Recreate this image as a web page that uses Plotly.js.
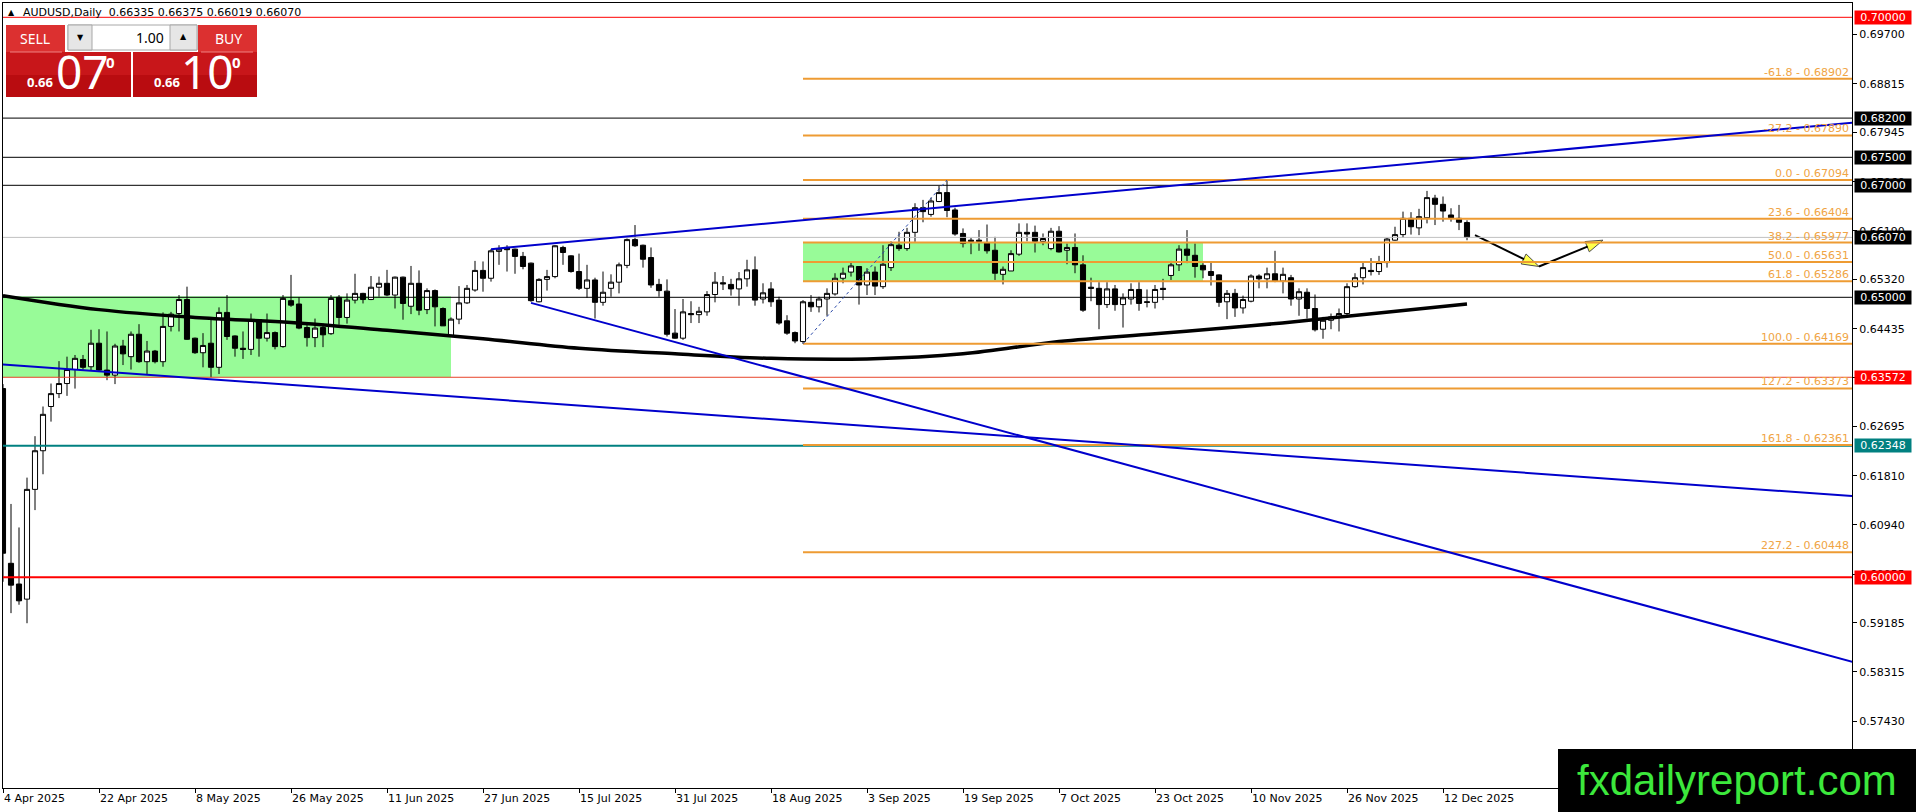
<!DOCTYPE html>
<html>
<head>
<meta charset="utf-8">
<script src="https://cdn.plot.ly/plotly-3.0.1.min.js"></script>
<style>html,body{margin:0;padding:0;background:#fff}#chart{width:1916px;height:812px}</style>
</head>
<body>
<div id="chart"></div>
<script>
// AUDUSD daily, bars counted from 4 Apr 2025 (index 0)
const tickBars = [0, 12, 24, 36, 48, 60, 72, 84, 96, 108, 120, 132, 144, 156, 168, 180];
const tickLabels = ["4 Apr 2025", "22 Apr 2025", "8 May 2025", "26 May 2025", "11 Jun 2025", "27 Jun 2025",
  "15 Jul 2025", "31 Jul 2025", "18 Aug 2025", "3 Sep 2025", "19 Sep 2025", "7 Oct 2025",
  "23 Oct 2025", "10 Nov 2025", "26 Nov 2025", "12 Dec 2025"];

const opens = [0.6337,0.6025,0.5988,0.5961,0.6157,0.6226,0.6305,0.6328,0.6346,0.6371,
  0.6389,0.6376,0.6418,0.6370,0.6361,0.6413,0.6394,0.6434,0.6385,0.6404,
  0.6385,0.6448,0.6471,0.6496,0.6427,0.6401,0.6418,0.6375,0.6473,0.6431,
  0.6409,0.6407,0.6460,0.6427,0.6437,0.6412,0.6494,0.6488,0.6446,0.6428,
  0.6446,0.6435,0.6500,0.6464,0.6495,0.6507,0.6496,0.6518,0.6525,0.6504,
  0.6536,0.6484,0.6525,0.6478,0.6512,0.6480,0.6431,0.6461,0.6490,0.6513,
  0.6548,0.6534,0.6582,0.6589,0.6586,0.6573,0.6561,0.6492,0.6532,0.6537,
  0.6589,0.6574,0.6546,0.6516,0.6531,0.6491,0.6516,0.6527,0.6557,0.6603,
  0.6593,0.6571,0.6523,0.6511,0.6436,0.6427,0.6471,0.6469,0.6474,0.6505,
  0.6526,0.6523,0.6515,0.6533,0.6549,0.6497,0.6515,0.6495,0.6458,0.6437,
  0.6421,0.6491,0.6483,0.6497,0.6506,0.6534,0.6545,0.6555,0.6522,0.6545,
  0.6519,0.6553,0.6593,0.6587,0.6616,0.6660,0.6648,0.6671,0.6687,0.6656,
  0.6614,0.6602,0.6602,0.6597,0.6584,0.6541,0.6547,0.6577,0.6616,0.6616,
  0.6600,0.6587,0.6618,0.6584,0.6589,0.6558,0.6518,0.6516,0.6487,0.6515,
  0.6487,0.6497,0.6514,0.6492,0.6491,0.6516,0.6539,0.6558,0.6586,0.6575,
  0.6557,0.6546,0.6540,0.6492,0.6507,0.6481,0.6493,0.6538,0.6533,0.6542,
  0.6529,0.6535,0.6497,0.6509,0.6480,0.6443,0.6459,0.6465,0.6471,0.6519,
  0.6535,0.6548,0.6546,0.6562,0.6602,0.6612,0.6641,0.6624,0.6642,0.6677,
  0.6666,0.6647,0.6641,0.66335];
const highs = [0.6345,0.6131,0.6089,0.6178,0.6252,0.6305,0.6346,0.6386,0.6394,0.6397,
  0.6397,0.6442,0.6443,0.6439,0.6417,0.6424,0.6439,0.6452,0.6422,0.6406,
  0.6473,0.6474,0.6504,0.6519,0.6428,0.6436,0.6461,0.6482,0.6504,0.6432,
  0.6439,0.6471,0.6461,0.6471,0.6439,0.6504,0.6540,0.6500,0.6453,0.6462,
  0.6453,0.6504,0.6504,0.6507,0.6542,0.6508,0.6538,0.6537,0.6549,0.6537,
  0.6537,0.6556,0.6548,0.6516,0.6514,0.6482,0.6464,0.6520,0.6522,0.6565,
  0.6564,0.6586,0.6593,0.6593,0.6587,0.6581,0.6562,0.6534,0.6549,0.6593,
  0.6592,0.6575,0.6578,0.6558,0.6535,0.6546,0.6541,0.6562,0.6605,0.6629,
  0.6594,0.6589,0.6533,0.6532,0.6479,0.6497,0.6493,0.6483,0.6511,0.6545,
  0.6538,0.6533,0.6545,0.6567,0.6573,0.6525,0.6527,0.6501,0.6468,0.6439,
  0.6495,0.6504,0.6501,0.6516,0.6543,0.6553,0.6562,0.6555,0.6552,0.6555,
  0.6593,0.6600,0.6617,0.6624,0.6668,0.6674,0.6678,0.6699,0.67094,0.6660,
  0.6623,0.6606,0.6620,0.6630,0.6608,0.6555,0.6584,0.6632,0.6632,0.6628,
  0.6614,0.6624,0.6627,0.6596,0.6614,0.6575,0.6535,0.6527,0.6527,0.6522,
  0.6507,0.6525,0.6527,0.6514,0.6522,0.6533,0.6565,0.6593,0.6620,0.6596,
  0.6561,0.6562,0.6541,0.6513,0.6515,0.6503,0.6541,0.6541,0.6553,0.6583,
  0.6553,0.6540,0.6516,0.6516,0.6505,0.6465,0.6471,0.6480,0.6525,0.6543,
  0.6562,0.6570,0.6574,0.6606,0.6626,0.6653,0.6652,0.6658,0.6690,0.6683,
  0.6680,0.6659,0.6665,0.66375];
const lows = [0.5992,0.5936,0.5951,0.5918,0.6120,0.6184,0.6278,0.6320,0.6324,0.6337,
  0.6371,0.6370,0.6367,0.6352,0.6345,0.6379,0.6371,0.6383,0.6363,0.6382,
  0.6376,0.6439,0.6439,0.6424,0.6399,0.6375,0.6357,0.6363,0.6424,0.6394,
  0.6390,0.6397,0.6394,0.6421,0.6407,0.6410,0.6483,0.6443,0.6412,0.6411,
  0.6411,0.6433,0.6451,0.6453,0.6489,0.6489,0.6495,0.6501,0.6502,0.6480,
  0.6460,0.6470,0.6468,0.6470,0.6448,0.6449,0.6430,0.6452,0.6488,0.6510,
  0.6510,0.6528,0.6558,0.6546,0.6542,0.6550,0.6492,0.6491,0.6512,0.6534,
  0.6558,0.6544,0.6513,0.6499,0.6462,0.6485,0.6501,0.6507,0.6552,0.6590,
  0.6553,0.6517,0.6501,0.6430,0.6426,0.6424,0.6454,0.6454,0.6467,0.6491,
  0.6513,0.6503,0.6485,0.6519,0.6485,0.6489,0.6483,0.6451,0.6433,0.6418,
  0.6417,0.6474,0.6473,0.6467,0.6503,0.6525,0.6537,0.6487,0.6504,0.6504,
  0.6515,0.6547,0.6583,0.6583,0.6599,0.6634,0.6644,0.6670,0.6643,0.6610,
  0.6589,0.6577,0.6583,0.6578,0.6531,0.6523,0.6547,0.6574,0.6600,0.6580,
  0.6593,0.6584,0.6580,0.6559,0.6543,0.6474,0.6493,0.6443,0.6481,0.6476,
  0.6446,0.6487,0.6476,0.6482,0.6480,0.6495,0.6531,0.6547,0.6561,0.6535,
  0.6534,0.6521,0.6483,0.6461,0.6465,0.6471,0.6491,0.6516,0.6516,0.6527,
  0.6507,0.6485,0.6467,0.6462,0.6439,0.6426,0.6443,0.6439,0.6468,0.6517,
  0.6523,0.6539,0.6540,0.6553,0.6601,0.6606,0.6612,0.6611,0.6632,0.6629,
  0.6635,0.6635,0.6620,0.66019];
const closes = [0.6043,0.5986,0.5958,0.6157,0.6226,0.6291,0.6328,0.6346,0.6371,0.6391,
  0.6375,0.6418,0.6370,0.6361,0.6413,0.6399,0.6434,0.6385,0.6404,0.6385,
  0.6448,0.6470,0.6496,0.6425,0.6401,0.6414,0.6375,0.6473,0.6430,0.6409,
  0.6407,0.6460,0.6427,0.6437,0.6412,0.6498,0.6486,0.6445,0.6428,0.6445,
  0.6433,0.6498,0.6464,0.6495,0.6507,0.6496,0.6518,0.6525,0.6504,0.6536,
  0.6489,0.6525,0.6477,0.6512,0.6483,0.6449,0.6461,0.6490,0.6516,0.6548,
  0.6534,0.6583,0.6586,0.6585,0.6573,0.6555,0.6494,0.6532,0.6537,0.6592,
  0.6580,0.6546,0.6516,0.6531,0.6491,0.6509,0.6527,0.6558,0.6603,0.6592,
  0.6568,0.6522,0.6512,0.6434,0.6427,0.6474,0.6469,0.6475,0.6505,0.6527,
  0.6524,0.6515,0.6533,0.6549,0.6495,0.6508,0.6492,0.6454,0.6436,0.6422,
  0.6492,0.6483,0.6497,0.6507,0.6534,0.6543,0.6556,0.6522,0.6545,0.6520,
  0.6559,0.6594,0.6587,0.6616,0.6660,0.6653,0.6672,0.6687,0.6655,0.6613,
  0.6596,0.6600,0.6600,0.6583,0.6543,0.6550,0.6578,0.6616,0.6613,0.6600,
  0.6605,0.6618,0.6581,0.6589,0.6558,0.6477,0.6516,0.6487,0.6515,0.6487,
  0.6499,0.6514,0.6489,0.6491,0.6514,0.6514,0.6558,0.6586,0.6575,0.6555,
  0.6549,0.6539,0.6491,0.6507,0.6481,0.6496,0.6538,0.6533,0.6542,0.6529,
  0.6541,0.6497,0.6510,0.6480,0.6442,0.6459,0.6465,0.6471,0.6519,0.6535,
  0.6553,0.6546,0.6562,0.6604,0.6612,0.6641,0.6626,0.6644,0.6678,0.6666,
  0.6654,0.6642,0.6634,0.66070];

// moving average, sampled every 12 bars
const maBars = [0, 12, 24, 36, 48, 60, 72, 84, 96, 108, 120, 132, 144, 156, 168, 183];
const maValues = [0.6503, 0.6478, 0.6464, 0.6455, 0.6441, 0.6426, 0.6409, 0.6399, 0.6391, 0.6390,
  0.6399, 0.6421, 0.6435, 0.6449, 0.6466, 0.6488];

// right price scale
const priceTicks = [0.69700, 0.68815, 0.67945, 0.67060, 0.66190, 0.65320, 0.64435, 0.63565,
  0.62695, 0.61810, 0.60940, 0.60055, 0.59185, 0.58315, 0.57430];

// horizontal levels with their price tags
const levelPrices = [0.70000, 0.68200, 0.67500, 0.67000, 0.66070, 0.65000, 0.63572, 0.62348, 0.60000];
const levelColors = ["#ff0000", "#000000", "#000000", "#000000", "#000000", "#000000", "#ff0000", "#008080", "#ff0000"];
const levelLineColors = ["#ff0000", "#000000", "#000000", "#000000", "#c0c0c0", "#000000", "#e8442a", "#008080", "#ff0000"];
const levelLineWidths = [1, 1, 1, 1, 1, 1, 1, 2, 2];

// fibonacci from the Aug low to the Sep high
const fibLevels = ["-61.8", "-27.2", "0.0", "23.6", "38.2", "50.0", "61.8", "100.0", "127.2", "161.8", "227.2"];
const fibPrices = [0.68902, 0.67890, 0.67094, 0.66404, 0.65977, 0.65631, 0.65286, 0.64169, 0.63373, 0.62361, 0.60448];
const fibStartBar = 100;
const fibAnchorBars = [100, 118];
const fibAnchorPrices = [0.64169, 0.67094];

// trend lines (start bar/price, end bar/price)
const upperTrendBars = [61, 231.2], upperTrendPrices = [0.6586, 0.6812];
const fallTrendBars = [66, 231.2], fallTrendPrices = [0.6490, 0.5849];
const lowerTrendBars = [-1, 231.2], lowerTrendPrices = [0.6381, 0.6145];

// green zones
const zoneStart = [-1, 100], zoneEnd = [56, 150];
const zoneTop = [0.6502, 0.65977], zoneBottom = [0.63572, 0.65286];

// projected path
const projBars = [184, 192, 200];
const projPrices = [0.6611, 0.6555, 0.6602];

const bars = opens.map((_, i) => i);

// pixel helpers for the panel and watermark (plot area is x 3..1852, y 3..788)
const W = 1916, H = 812, ML = 3, MR = 64, MT = 3, MB = 24;
const pw = W - ML - MR, ph = H - MT - MB;
const X = px => (px - ML) / pw;
const Y = py => (H - MB - py) / ph;

const shapes = [];
const annotations = [];

// zones (behind candles)
for (let i = 0; i < zoneStart.length; i++) {
  shapes.push({type: "rect", layer: "below", xref: "x", yref: "y",
    x0: zoneStart[i], x1: zoneEnd[i], y0: zoneBottom[i], y1: zoneTop[i],
    fillcolor: "#98fb98", line: {width: 0}});
}

// horizontal levels
for (let i = 0; i < levelPrices.length; i++) {
  shapes.push({type: "line", xref: "paper", yref: "y", x0: 0, x1: 1,
    y0: levelPrices[i], y1: levelPrices[i],
    line: {color: levelLineColors[i], width: levelLineWidths[i]}});
  annotations.push({xref: "paper", yref: "y", x: 1, y: levelPrices[i], xanchor: "left", xshift: 2,
    text: levelPrices[i].toFixed(5), showarrow: false, bgcolor: levelColors[i],
    width: 54, height: 11, borderpad: 1, align: "center",
    font: {family: "DejaVu Sans", size: 11, color: "#ffffff"}});
}

// fib levels
for (let i = 0; i < fibPrices.length; i++) {
  shapes.push({type: "line", xref: "x", yref: "y", x0: fibStartBar, x1: 231.2,
    y0: fibPrices[i], y1: fibPrices[i], line: {color: "#ee9b33", width: 2}});
  annotations.push({xref: "paper", yref: "y", x: 1, y: fibPrices[i], xanchor: "right", yanchor: "bottom",
    xshift: -1, yshift: -2, text: fibLevels[i] + " - " + fibPrices[i].toFixed(5), showarrow: false,
    font: {family: "DejaVu Sans", size: 11, color: "#f0a444"}});
}
shapes.push({type: "line", xref: "x", yref: "y", x0: fibAnchorBars[0], x1: fibAnchorBars[1],
  y0: fibAnchorPrices[0], y1: fibAnchorPrices[1], line: {color: "#2848a8", width: 1, dash: "dot"}});

// trend lines
[[upperTrendBars, upperTrendPrices], [fallTrendBars, fallTrendPrices], [lowerTrendBars, lowerTrendPrices]]
  .forEach(([b, p]) => {
    shapes.push({type: "line", xref: "x", yref: "y", x0: b[0], x1: b[1], y0: p[0], y1: p[1],
      line: {color: "#0000cc", width: 2}});
  });

// header line
annotations.push({xref: "paper", yref: "paper", x: X(6), y: Y(13), xanchor: "left", yanchor: "middle",
  text: "▲", showarrow: false, font: {family: "DejaVu Sans", size: 8, color: "#000"}});
annotations.push({xref: "paper", yref: "paper", x: X(21), y: Y(13), xanchor: "left", yanchor: "middle",
  text: "AUDUSD,Daily  0.66335 0.66375 0.66019 0.66070", showarrow: false,
  font: {family: "DejaVu Sans", size: 11, color: "#000"}});

// one-click trading panel
function box(x0, y0, x1, y1, fill, lineColor) {
  shapes.push({type: "rect", xref: "paper", yref: "paper", x0: X(x0), x1: X(x1), y0: Y(y1), y1: Y(y0),
    fillcolor: fill, line: lineColor ? {color: lineColor, width: 1} : {width: 0}});
}
function label(x, y, text, size, color, family, anchor, weight) {
  annotations.push({xref: "paper", yref: "paper", x: X(x), y: Y(y), xanchor: anchor || "center",
    yanchor: "middle", text: text, showarrow: false, borderpad: 0,
    font: {family: family || "Noto Sans", size: size, color: color, weight: weight || "normal"}});
}
box(6, 52, 131, 97, "#c8161a");
box(133, 52, 257, 97, "#c8161a");
box(6, 25, 65, 52, "#dc3030");
box(198, 25, 257, 52, "#dc3030");
box(6, 75, 131, 97, "#b90c10");
box(133, 75, 257, 97, "#b90c10");
box(10, 51.5, 62, 52.5, "#ee8080");
box(201, 51.5, 253, 52.5, "#ee8080");
box(68, 25, 197, 50, "#ffffff", "#a8a8a8");
box(68, 25, 92, 50, "#e6e6e6", "#a8a8a8");
box(170, 25, 197, 50, "#e6e6e6", "#a8a8a8");
label(35, 39, "SELL", 14, "#ffffff");
label(228, 39, "BUY", 14, "#ffffff");
label(80, 38, "▼", 8, "#000000", "DejaVu Sans");
label(183, 37, "▲", 8, "#000000", "DejaVu Sans");
label(165, 38, "1.00", 14, "#000000", "Noto Sans", "right");
label(40, 82, "0.66", 13, "#ffffff", "Noto Sans", "center", "bold");
label(82, 71, "07", 46, "#ffffff");
label(110, 62, "0", 15, "#ffffff", "Noto Sans", "center", "bold");
label(167, 82, "0.66", 13, "#ffffff", "Noto Sans", "center", "bold");
label(207, 71, "10", 46, "#ffffff");
label(236, 62, "0", 15, "#ffffff", "Noto Sans", "center", "bold");

// watermark
shapes.push({type: "rect", xref: "paper", yref: "paper", x0: X(1558), x1: X(1916), y0: Y(812), y1: Y(749),
  fillcolor: "#000000", line: {width: 0}});
annotations.push({xref: "paper", yref: "paper", x: X(1737), y: Y(780), xanchor: "center", yanchor: "middle",
  text: "fxdailyreport.com", showarrow: false,
  font: {family: "Liberation Sans", size: 42, color: "#3ce83c"}});

const candles = {
  type: "candlestick", x: bars, open: opens, high: highs, low: lows, close: closes,
  increasing: {line: {color: "#000000", width: 1}, fillcolor: "#ffffff"},
  decreasing: {line: {color: "#000000", width: 1}, fillcolor: "#000000"},
  whiskerwidth: 0, hoverinfo: "skip"
};
const ma = {
  type: "scatter", mode: "lines", x: maBars, y: maValues,
  line: {color: "#000000", width: 3.5, shape: "spline", smoothing: 1}, hoverinfo: "skip"
};
const proj = {
  type: "scatter", mode: "lines+markers", x: projBars, y: projPrices,
  line: {color: "#000000", width: 2},
  marker: {symbol: "arrow", size: [0, 18, 18], color: "#ffff00", angleref: "previous",
    line: {color: "#000000", width: 1}},
  hoverinfo: "skip", cliponaxis: false
};

const layout = {
  width: W, height: H,
  margin: {l: ML, r: MR, t: MT, b: MB},
  paper_bgcolor: "#ffffff", plot_bgcolor: "#ffffff",
  showlegend: false, hovermode: false,
  boxgap: 0.2, boxgroupgap: 0.2,
  xaxis: {
    range: [0, 231.125], rangeslider: {visible: false},
    tickvals: tickBars, ticktext: tickLabels, ticks: "outside", ticklen: 4, tickcolor: "#000",
    ticklabelposition: "outside right",
    showgrid: false, zeroline: false, showline: true, linecolor: "#000", linewidth: 1, mirror: true,
    tickfont: {family: "DejaVu Sans", size: 11, color: "#000"}
  },
  yaxis: {
    side: "right", range: [0.562375, 0.702554],
    tickvals: priceTicks, ticktext: priceTicks.map(v => v.toFixed(5)),
    ticks: "outside", ticklen: 4, tickcolor: "#000",
    showgrid: false, zeroline: false, showline: true, linecolor: "#000", linewidth: 1, mirror: true,
    tickfont: {family: "DejaVu Sans", size: 11, color: "#000"}
  },
  shapes: shapes,
  annotations: annotations
};

Plotly.newPlot("chart", [candles, ma, proj], layout, {staticPlot: true, displayModeBar: false});
</script>
</body>
</html>
